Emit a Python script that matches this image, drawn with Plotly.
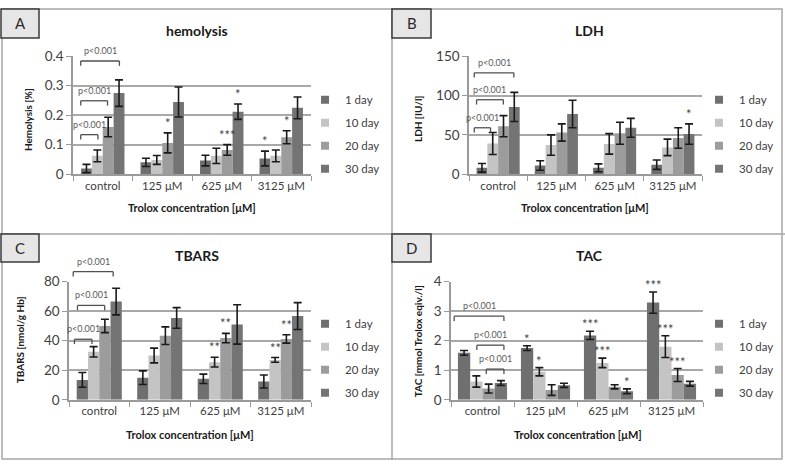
import plotly.graph_objects as go

# ---------------- data ----------------
CATEGORIES = ['control', '125 μM', '625 μM', '3125 μM']
SERIES = ['1 day', '10 day', '20 day', '30 day']
COLORS = ['#6f6f6f', '#c4c4c4', '#9c9c9c', '#747474']

HEMO_1 = [0.019, 0.040, 0.046, 0.053]
HEMO_10 = [0.062, 0.048, 0.062, 0.062]
HEMO_20 = [0.160, 0.106, 0.082, 0.125]
HEMO_30 = [0.275, 0.245, 0.212, 0.225]
HEMO_ERR_1 = [0.014, 0.014, 0.018, 0.025]
HEMO_ERR_10 = [0.020, 0.015, 0.026, 0.020]
HEMO_ERR_20 = [0.033, 0.034, 0.018, 0.022]
HEMO_ERR_30 = [0.045, 0.051, 0.026, 0.037]

LDH_1 = [8, 11, 8, 12]
LDH_10 = [39, 37, 38.5, 34]
LDH_20 = [61, 53, 52, 46]
LDH_30 = [85.5, 76.5, 59, 51]
LDH_ERR_1 = [5.5, 6, 5, 6]
LDH_ERR_10 = [14, 13, 13, 10.5]
LDH_ERR_20 = [13.5, 11, 14, 13]
LDH_ERR_30 = [18.5, 17.5, 12, 13]

TBARS_1 = [13.5, 15, 14.2, 12.4]
TBARS_10 = [32.5, 30, 25.5, 27]
TBARS_20 = [50, 43.4, 41.8, 41.2]
TBARS_30 = [66.5, 55.4, 51, 56.7]
TBARS_ERR_1 = [5, 4.6, 3.2, 4.4]
TBARS_ERR_10 = [3.5, 5, 3.3, 1.6]
TBARS_ERR_20 = [4.5, 6, 3.2, 2.8]
TBARS_ERR_30 = [9, 7, 13.3, 9.1]

TAC_1 = [1.59, 1.75, 2.18, 3.29]
TAC_10 = [0.62, 0.95, 1.25, 1.80]
TAC_20 = [0.38, 0.33, 0.44, 0.84]
TAC_30 = [0.57, 0.49, 0.29, 0.545]
TAC_ERR_1 = [0.08, 0.08, 0.14, 0.36]
TAC_ERR_10 = [0.19, 0.14, 0.16, 0.37]
TAC_ERR_20 = [0.15, 0.18, 0.07, 0.22]
TAC_ERR_30 = [0.08, 0.07, 0.08, 0.08]

# significance marks: (category index, series index, label)
STARS_A = [(1, 2, '*'), (2, 2, '***'), (2, 3, '*'), (3, 0, '*'), (3, 2, '*')]
STARS_B = [(3, 3, '*')]
STARS_C = [(2, 1, '**'), (2, 2, '**'), (3, 1, '**'), (3, 2, '**')]
STARS_D = [(1, 0, '*'), (1, 1, '*'), (2, 0, '***'), (2, 1, '***'), (2, 3, '*'),
           (3, 0, '***'), (3, 1, '***'), (3, 2, '***')]
P_LABEL = 'p<0.001'

# ---------------- layout constants ----------------
W, H = 785, 468
FONT = "Lato, 'Open Sans', sans-serif"
TXT = '#404040'
GRID = '#a8a8a8'


def fx(x):
    return x / W


def fy(y):
    return 1 - y / H


PANELS = [
    dict(key='A', title='hemolysis', ytitle='Hemolysis [%]',
         vals=[HEMO_1, HEMO_10, HEMO_20, HEMO_30],
         errs=[HEMO_ERR_1, HEMO_ERR_10, HEMO_ERR_20, HEMO_ERR_30],
         stars=STARS_A, ymax=0.4, dtick=0.1, group=0.73,
         px=(73, 311), py=(50, 172), box=(1, 1, 39, 31),
         title_pos=(197, 23), xt_pos=(192, 207), yt_pos=(28, 116),
         leg=(305, 80), star_shift=0,
         brackets=[(-0.37, 0.28, 0.384), (-0.37, 0.08, 0.249), (-0.37, -0.08, 0.134)]),
    dict(key='B', title='LDH', ytitle='LDH [IU/l]',
         vals=[LDH_1, LDH_10, LDH_20, LDH_30],
         errs=[LDH_ERR_1, LDH_ERR_10, LDH_ERR_20, LDH_ERR_30],
         stars=STARS_B, ymax=150, dtick=50, group=0.74,
         px=(469, 702), py=(50, 172), box=(392, 1, 431, 31),
         title_pos=(589, 23), xt_pos=(585, 207), yt_pos=(418, 115),
         leg=(699, 80), star_shift=0,
         brackets=[(-0.41, 0.27, 129), (-0.37, 0.09, 94.7), (-0.41, -0.13, 59)]),
    dict(key='C', title='TBARS', ytitle='TBARS [nmol/g Hb]',
         vals=[TBARS_1, TBARS_10, TBARS_20, TBARS_30],
         errs=[TBARS_ERR_1, TBARS_ERR_10, TBARS_ERR_20, TBARS_ERR_30],
         stars=STARS_C, ymax=80, dtick=20, group=0.745,
         px=(69, 311), py=(283.3, 405.7), box=(1, 234, 39, 263),
         title_pos=(197, 256), xt_pos=(190, 442), yt_pos=(20, 344),
         leg=(305, 312), star_shift=0,
         brackets=[(-0.43, 0.23, 86.7), (-0.36, 0.09, 63.9), (-0.41, -0.12, 41)]),
    dict(key='D', title='TAC', ytitle='TAC [mmol Trolox eqiv./l]',
         vals=[TAC_1, TAC_10, TAC_20, TAC_30],
         errs=[TAC_ERR_1, TAC_ERR_10, TAC_ERR_20, TAC_ERR_30],
         stars=STARS_D, ymax=4, dtick=1, group=0.78,
         px=(451, 703), py=(283.3, 405.7), box=(392, 234, 431, 263),
         title_pos=(589, 256), xt_pos=(578, 442), yt_pos=(418, 345),
         leg=(699, 312), star_shift=-3,
         brackets=[(-0.45, 0.34, 2.83), (-0.09, 0.34, 1.85), (0.06, 0.34, 1.04)]),
]

fig = go.Figure()
shapes = []
annotations = []
layout = {}


def paper_text(text, x, y, size, color, weight='normal', angle=0):
    return dict(text=text, x=fx(x), y=fy(y), xref='paper', yref='paper',
                xanchor='center', yanchor='middle', showarrow=False,
                textangle=angle,
                font=dict(size=size, color=color, family=FONT, weight=weight))


for n, p in enumerate(PANELS):
    idx = '' if n == 0 else str(n + 1)
    xa, ya = 'x' + idx, 'y' + idx
    lid = 'legend' + idx
    bw = p['group'] / 4

    for i, s in enumerate(SERIES):
        fig.add_trace(go.Bar(
            x=CATEGORIES, y=p['vals'][i], name=s, showlegend=False,
            width=bw, offset=(i - 2) * bw,
            marker=dict(color=COLORS[i], line=dict(width=0)),
            error_y=dict(type='data', array=p['errs'][i], color='#1a1a1a',
                         thickness=1.6, width=4),
            xaxis=xa, yaxis=ya))
    for i, s in enumerate(SERIES):
        fig.add_trace(go.Scatter(
            x=[None], y=[None], mode='markers', name=s,
            marker=dict(symbol='square', size=8, color=COLORS[i]),
            legend=lid, legendgroup=p['key'] + str(i), showlegend=True,
            xaxis=xa, yaxis=ya))

    layout['xaxis' + idx] = dict(
        domain=[fx(p['px'][0]), fx(p['px'][1])], anchor=ya,
        type='category', categoryorder='array', categoryarray=CATEGORIES,
        range=[-0.5, 3.5],
        tickson='boundaries', ticks='outside', ticklen=5, tickcolor='#9a9a9a',
        showline=True, linecolor='#9a9a9a', linewidth=1.5, showgrid=False,
        tickfont=dict(size=11.5, color=TXT, family=FONT), fixedrange=True)
    layout['yaxis' + idx] = dict(
        domain=[fy(p['py'][1]), fy(p['py'][0])], anchor=xa,
        range=[0, p['ymax']], dtick=p['dtick'], tick0=0,
        ticks='outside', ticklen=5, tickcolor='#9a9a9a',
        showline=True, linecolor='#9a9a9a', linewidth=1.5,
        showgrid=True, gridcolor=GRID, gridwidth=1.5, zeroline=False,
        tickfont=dict(size=13.5, color=TXT, family=FONT), fixedrange=True)
    layout[lid] = dict(
        x=fx(p['leg'][0]), y=fy(p['leg'][1]), xanchor='left', yanchor='top',
        bgcolor='rgba(0,0,0,0)', font=dict(size=11.5, color=TXT, family=FONT),
        tracegroupgap=4, itemwidth=30, itemclick=False, itemdoubleclick=False)

    # titles
    annotations.append(paper_text(p['title'], *p['title_pos'], 14, '#1a1a1a', 'bold'))
    annotations.append(paper_text('Trolox concentration [μM]', *p['xt_pos'], 11,
                                  '#1a1a1a', 'bold'))
    annotations.append(paper_text(p['ytitle'], *p['yt_pos'], 10, '#1a1a1a', 'bold', -90))

    # panel letter box
    bx0, by0, bx1, by1 = p['box']
    shapes.append(dict(type='rect', xref='paper', yref='paper',
                       x0=fx(bx0), x1=fx(bx1), y0=fy(by1), y1=fy(by0),
                       fillcolor='#e6e6e6', line=dict(color='#3a3a3a', width=1.5)))
    annotations.append(paper_text(p['key'], (bx0 + bx1) / 2, (by0 + by1) / 2,
                                  15, '#2a2a2a'))

    # significance brackets
    dom_h = p['py'][1] - p['py'][0]
    drop = 5 / dom_h
    for (x0, x1, lvl) in p['brackets']:
        yl = lvl / p['ymax']
        line = dict(color='#505050', width=1.3)
        shapes.append(dict(type='line', xref=xa, yref=ya + ' domain',
                           x0=x0, x1=x1, y0=yl, y1=yl, line=line))
        for xe in (x0, x1):
            shapes.append(dict(type='line', xref=xa, yref=ya + ' domain',
                               x0=xe, x1=xe, y0=yl, y1=yl - drop, line=line))
        annotations.append(dict(
            text=P_LABEL, x=(x0 + x1) / 2, y=yl, xref=xa, yref=ya + ' domain',
            xanchor='center', yanchor='bottom', yshift=3, showarrow=False,
            font=dict(size=9, color='#5a5a5a', family=FONT)))

    # stars
    for (c, s, lab) in p['stars']:
        top = p['vals'][s][c] + p['errs'][s][c]
        annotations.append(dict(
            text=lab, x=c + (s - 1.5) * bw, y=top, xref=xa, yref=ya,
            xanchor='center', yanchor='bottom', yshift=p['star_shift'],
            showarrow=False, font=dict(size=13, color='#454545', family=FONT)))

# frame and dividers
frame = dict(color='#a6a6a6', width=1.5)
shapes.insert(0, dict(type='rect', xref='paper', yref='paper',
                      x0=fx(2), x1=fx(782), y0=fy(467), y1=fy(1), line=frame))
shapes.insert(1, dict(type='line', xref='paper', yref='paper',
                      x0=fx(392), x1=fx(392), y0=0, y1=1, line=frame))
shapes.insert(2, dict(type='line', xref='paper', yref='paper',
                      x0=0, x1=1, y0=fy(234), y1=fy(234), line=frame))

fig.update_layout(
    width=W, height=H, autosize=False,
    margin=dict(l=0, r=0, t=0, b=0),
    paper_bgcolor='white', plot_bgcolor='white',
    barmode='overlay',
    font=dict(family=FONT, color=TXT),
    shapes=shapes, annotations=annotations,
    **layout)

fig.write_html('out.html', config={'displayModeBar': False},
               post_script="document.body.style.margin='0';"
                           "document.body.style.overflow='hidden';")
